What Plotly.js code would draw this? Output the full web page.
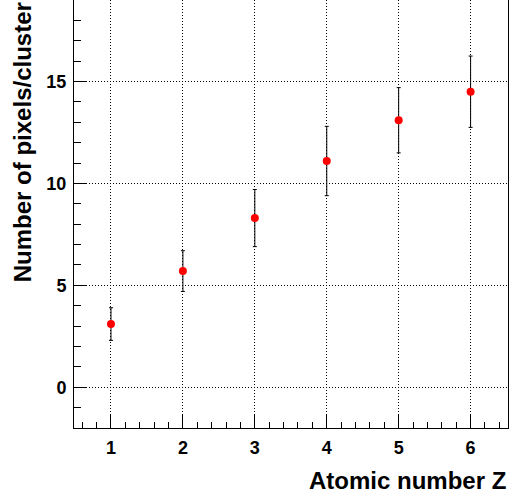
<!DOCTYPE html>
<html>
<head>
<meta charset="utf-8">
<script src="https://cdn.plot.ly/plotly-3.0.1.min.js"></script>
<style>html,body{margin:0;padding:0;background:#fff;}#chart{width:521px;height:494px;}</style>
</head>
<body>
<div id="chart"></div>
<script>
var atomicNumber = [1, 2, 3, 4, 5, 6];
var pixelsPerCluster = [3.1, 5.7, 8.3, 11.1, 13.1, 14.5];
var pixelsError = [0.8, 1.0, 1.4, 1.7, 1.6, 1.75];
var xTitle = "Atomic number Z";
var yTitle = "Number of pixels/cluster";

var font = "Liberation Sans, Arial, Helvetica, sans-serif";

var trace = {
  x: atomicNumber,
  y: pixelsPerCluster,
  type: "scatter",
  mode: "markers",
  marker: {color: "#ff0000", size: 8},
  error_y: {type: "data", array: pixelsError, visible: true, color: "#000000", thickness: 1, width: 2},
  hoverinfo: "none"
};

var layout = {
  width: 521, height: 494,
  margin: {l: 74, r: 13, t: 0, b: 66},
  paper_bgcolor: "#ffffff", plot_bgcolor: "#ffffff",
  showlegend: false,
  font: {family: font, color: "#000000"},
  xaxis: {
    range: [0.486, 6.52],
    tickvals: atomicNumber,
    ticks: "inside", ticklen: 13, tickcolor: "#000", tickwidth: 1,
    showline: true, linecolor: "#000", linewidth: 1, mirror: false,
    showgrid: true, gridcolor: "#000", griddash: "1px,2px", gridwidth: 1,
    zeroline: false,
    tickfont: {size: 18, family: font, weight: "bold"},
    minor: {dtick: 0.2, tick0: 0, ticks: "inside", ticklen: 6, tickcolor: "#000", showgrid: false},
    ticklabelstandoff: 3
  },
  yaxis: {
    range: [-2, 19],
    tickvals: [0, 5, 10, 15],
    ticks: "inside", ticklen: 13, tickcolor: "#000", tickwidth: 1,
    showline: true, linecolor: "#000", linewidth: 1, mirror: true,
    showgrid: true, gridcolor: "#000", griddash: "1px,2px", gridwidth: 1,
    zeroline: false,
    tickfont: {size: 18, family: font, weight: "bold"},
    minor: {dtick: 1, tick0: 0, ticks: "inside", ticklen: 7, tickcolor: "#000", showgrid: false},
    ticklabelstandoff: 3
  },
  annotations: [
    {text: xTitle, xref: "paper", yref: "paper", x: 1, y: -0.086, xanchor: "right", yanchor: "top",
     showarrow: false, font: {size: 24, family: font, weight: "bold", color: "#000"}},
    {text: yTitle, xref: "paper", yref: "paper", x: -0.155, y: 1, xanchor: "left", yanchor: "top",
     textangle: -90, showarrow: false, font: {size: 24, family: font, weight: "bold", color: "#000"}}
  ]
};

Plotly.newPlot("chart", [trace], layout, {displayModeBar: false, staticPlot: true});
</script>
</body>
</html>
